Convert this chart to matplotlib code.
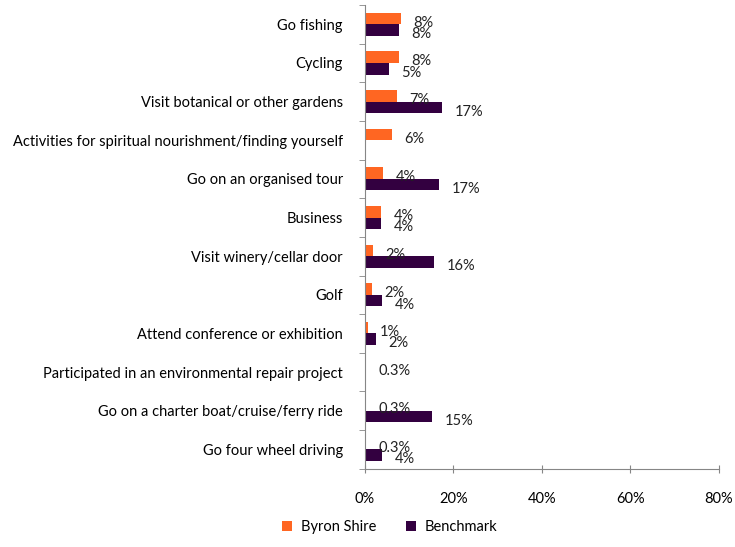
import matplotlib
matplotlib.use("Agg")
import matplotlib.pyplot as plt
import numpy as np
from matplotlib.ticker import FixedLocator

plt.rcParams['font.family'] = ['Lato', 'DejaVu Sans']

categories = [
    "Go fishing",
    "Cycling",
    "Visit botanical or other gardens",
    "Activities for spiritual nourishment/finding yourself",
    "Go on an organised tour",
    "Business",
    "Visit winery/cellar door",
    "Golf",
    "Attend conference or exhibition",
    "Participated in an environmental repair project",
    "Go on a charter boat/cruise/ferry ride",
    "Go four wheel driving",
]
byron = [8.1, 7.7, 7.2, 6.1, 4.1, 3.6, 1.8, 1.6, 0.6, 0.3, 0.3, 0.3]
benchmark = [7.7, 5.4, 17.4, np.nan, 16.7, 3.6, 15.6, 3.8, 2.5, np.nan, 15.1, 3.8]
x_ticks = [0, 20, 40, 60, 80]

orange = "#FF6622"
purple = "#330040"
grey = "#868686"


def label(v):
    if v < 0.5:
        return f"{v:.1f}%"
    return f"{max(1, round(v))}%"


fig = plt.figure(figsize=(7.35, 5.47), dpi=100)
ax = fig.add_axes([0.4966, 0.143, 0.4816, 0.848])

y = np.arange(len(categories))
h = 0.3
ax.barh(y - h / 2, byron, height=h, color=orange, label="Byron Shire")
ax.barh(y + h / 2, benchmark, height=h, color=purple, label="Benchmark")

for i in range(len(categories)):
    b = byron[i]
    ax.annotate(label(b), (b, y[i] - h / 2), xytext=(9, -3), textcoords="offset points",
                ha="left", va="center", fontsize=10.5, color="#222222")
    m = benchmark[i]
    if not np.isnan(m):
        ax.annotate(label(m), (m, y[i] + h / 2), xytext=(9, -3), textcoords="offset points",
                    ha="left", va="center", fontsize=10.5, color="#222222")

ax.set_ylim(len(categories) - 0.5, -0.5)
ax.set_xlim(0, 80)
ax.set_yticks(y)
ax.set_yticklabels(categories, fontsize=10.5)
ax.yaxis.set_minor_locator(FixedLocator(np.arange(-0.5, len(categories), 1)))
ax.tick_params(axis="y", which="major", length=0, pad=16)
ax.tick_params(axis="y", which="minor", length=4, color=grey)
ax.set_xticks(x_ticks)
ax.set_xticklabels([f"{t}%" for t in x_ticks], fontsize=10.5)
ax.tick_params(axis="x", direction="inout", length=6, color=grey, pad=14)

for s in ["top", "right"]:
    ax.spines[s].set_visible(False)
for s in ["left", "bottom"]:
    ax.spines[s].set_color(grey)

fig.legend(loc="lower center", bbox_to_anchor=(0.53, 0.0), ncol=2, frameon=False,
           fontsize=10.5, handlelength=0.7, handleheight=0.7, columnspacing=2.0,
           handletextpad=0.6)

fig.savefig("out.png", dpi=100)
